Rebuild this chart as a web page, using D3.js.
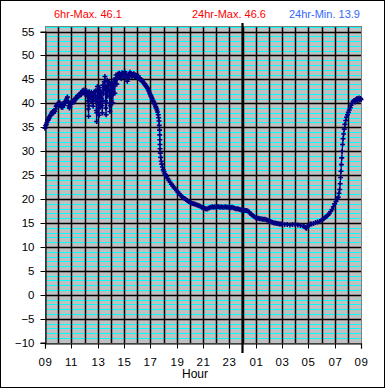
<!DOCTYPE html>
<html><head><meta charset="utf-8">
<script src="https://cdn.jsdelivr.net/npm/d3@7"></script>
<style>
html,body{margin:0;padding:0;background:#fff;}
svg{display:block;}
text{font-family:"Liberation Sans",Arial,sans-serif;}
</style></head>
<body>
<script>
// ---- data ----
const yTicks = [-10,-5,0,5,10,15,20,25,30,35,40,45,50,55];
const xTickHours = [0,2,4,6,8,10,12,14,16,18,20,22,24];
const xTickLabels = ["09","11","13","15","17","19","21","23","01","03","05","07","09"];
const titleTexts = ["6hr-Max. 46.1","24hr-Max. 46.6","24hr-Min. 13.9"];
const titleColors = ["#ff0000","#ff0000","#3366ff"];
const midnightHour = 15;
// hours since 09:00
const hours = [
 0.0,0.05,0.1,0.15,0.2,0.25,0.3,0.35,0.4,0.45,0.5,0.55,0.6,0.65,0.7,0.75,0.8,0.85,0.9,0.95,
 1.0,1.05,1.1,1.15,1.2,1.25,1.3,1.35,1.4,1.45,1.5,1.55,1.6,1.65,1.7,1.75,1.8,1.85,1.9,1.95,
 2.0,2.05,2.1,2.15,2.2,2.25,2.3,2.35,2.4,2.45,2.5,2.55,2.6,2.65,2.7,2.75,2.8,2.85,2.9,2.95,3.0,3.05,3.1,
 3.15,3.2,3.25,3.27,3.29,3.31,3.33,3.36,3.38,3.42,3.47,3.52,3.57,3.62,3.66,3.7,3.75,3.8,3.85,3.88,3.9,3.92,3.94,3.96,3.98,
 4.0,4.02,4.05,4.08,4.1,4.12,4.15,4.2,4.25,4.3,4.33,4.35,4.38,4.4,4.45,4.5,4.53,4.55,4.58,4.6,4.62,4.64,4.66,4.68,4.72,4.77,4.82,4.87,4.89,4.91,4.93,4.95,4.97,
 5.0,5.05,5.1,5.13,5.15,5.18,5.2,5.25,5.3,5.35,5.4,5.45,5.5,
 5.55,5.6,5.65,5.7,5.75,5.8,5.85,5.9,5.95,6.0,6.05,6.1,6.15,6.2,6.25,6.3,6.35,6.4,6.45,6.5,6.55,6.6,6.65,6.7,6.75,6.8,6.85,6.9,6.95,7.0,7.05,7.1,7.15,7.2,7.25,7.3,
 7.35,7.4,7.45,7.5,7.55,7.6,7.65,7.7,7.75,7.8,7.85,7.9,7.95,8.0,8.05,8.1,8.15,8.2,8.25,8.3,8.35,8.4,8.45,8.5,8.55,8.6,8.63,8.66,8.68,8.70,8.71,8.72,8.73,8.74,8.76,8.79,8.83,8.87,8.92,8.98,
 9.04,9.1,9.17,9.24,9.32,9.4,9.5,9.6,9.7,9.8,9.9,10.0,10.1,10.2,10.3,10.4,10.5,10.6,10.7,10.8,10.9,11.0,11.1,11.2,11.3,11.4,11.5,11.6,11.7,11.8,11.9,
 12.0,12.1,12.2,12.3,12.4,12.5,12.6,12.7,12.8,12.9,13.0,13.1,13.2,13.3,13.4,13.5,13.6,13.7,13.8,13.9,14.0,14.1,14.2,14.3,14.4,14.5,14.6,14.7,14.8,14.9,
 15.0,15.1,15.2,15.3,15.4,15.5,15.6,15.7,15.8,15.9,16.0,16.1,16.2,16.3,16.4,16.5,16.6,16.7,16.8,16.9,17.0,17.1,17.2,17.3,17.4,17.5,17.6,17.7,17.8,17.9,
 18.0,18.2,18.4,18.6,18.8,19.0,19.2,19.4,19.6,19.7,19.8,19.87,19.95,20.05,20.15,20.25,20.4,20.55,20.7,20.85,
 21.0,21.1,21.2,21.3,21.4,21.5,21.6,21.7,21.8,21.9,22.0,22.1,22.2,22.27,22.33,22.38,22.42,22.45,22.48,22.51,22.54,22.57,22.6,22.64,22.68,22.73,22.78,22.84,22.9,22.97,
 23.04,23.11,23.18,23.25,23.32,23.4,23.48,23.55,23.62,23.7,23.77,23.84,23.9,23.96,24.0
];
const temps = [
 34.8,35.3,35.6,36.0,36.4,36.6,36.9,37.2,37.4,37.6,37.9,38.1,38.3,38.0,38.5,38.3,38.8,39.4,39.6,39.8,
 40.0,39.5,40.2,39.8,39.5,39.2,39.4,39.2,39.6,40.0,40.3,40.1,40.6,40.9,41.3,40.4,39.5,39.0,39.3,39.8,
 40.1,40.4,40.2,40.6,40.3,40.7,40.9,41.2,41.0,41.4,41.6,41.5,41.9,41.7,42.1,41.8,42.3,42.6,42.2,42.8,42.4,41.9,42.0,
 42.6,41.5,42.3,40.5,38.8,37.3,39.5,42.4,40.8,41.9,41.2,42.3,40.3,42.0,39.4,41.5,42.4,41.0,42.6,40.5,38.5,36.2,38.0,40.5,43.5,
 41.5,40.0,42.8,39.0,37.5,40.5,43.3,39.2,42.5,41.0,39.5,38.0,40.5,43.8,42.0,44.5,43.0,45.6,43.5,40.5,39.0,37.6,40.0,43.0,44.8,41.5,43.8,44.5,42.5,40.0,38.3,39.5,41.5,
 43.9,42.0,44.2,42.0,40.1,42.0,43.5,45.0,42.1,44.8,45.9,44.0,45.7,
 46.1,45.4,46.3,45.8,46.0,45.2,46.4,45.9,46.2,45.6,46.6,45.8,46.1,45.5,44.6,45.2,46.0,45.7,46.5,45.9,46.2,45.6,46.0,45.8,46.2,45.6,45.9,45.5,45.8,45.6,45.4,45.7,45.3,45.1,44.9,45.0,
 44.8,44.6,44.4,44.3,44.1,43.9,43.7,43.5,43.3,43.1,42.8,42.5,42.1,41.8,41.5,41.2,40.9,40.6,40.3,40.0,39.7,39.3,39.0,38.6,38.2,37.6,37.0,36.3,35.4,34.4,33.4,32.4,31.4,30.5,29.6,28.7,27.9,27.3,26.7,26.1,
 25.7,25.3,25.0,24.7,24.3,23.9,23.5,23.1,22.8,22.4,22.1,21.8,21.4,21.1,20.8,20.5,20.3,20.1,19.9,19.7,19.5,19.4,19.2,19.1,19.0,18.9,18.8,18.7,18.6,18.5,18.3,
 18.2,18.1,18.0,17.9,18.1,18.2,18.3,18.4,18.3,18.4,18.3,18.4,18.4,18.3,18.4,18.3,18.3,18.4,18.3,18.3,18.3,18.2,18.3,18.2,18.1,18.0,18.0,17.9,17.8,17.7,
 17.7,17.7,17.6,17.6,17.5,17.3,17.0,16.7,16.5,16.3,16.1,16.0,16.0,15.9,15.9,15.8,15.8,15.8,15.7,15.6,15.4,15.3,15.2,15.1,15.0,15.0,14.9,14.9,14.8,14.8,
 14.8,14.7,14.7,14.6,14.7,14.7,14.6,14.5,14.4,14.2,14.0,13.9,14.3,14.6,14.8,14.8,14.9,15.1,15.2,15.3,
 15.6,15.8,16.0,16.2,16.4,16.7,17.0,17.4,17.8,18.4,19.0,19.5,20.0,20.4,21.2,22.0,23.2,24.5,25.8,27.2,28.6,30.0,31.4,32.6,33.6,34.6,35.6,36.4,37.1,37.6,
 38.1,38.6,39.1,39.6,40.0,40.4,40.6,40.3,40.8,41.0,40.6,41.1,40.7,41.0,40.8
];

// ---- drawing ----
const W = 385, H = 388;
const svg = d3.select("body").append("svg").attr("width", W).attr("height", H);
svg.append("rect").attr("x",0.5).attr("y",0.5).attr("width",W-1).attr("height",H-1)
  .attr("fill","#fff").attr("stroke","#000");

const x = d3.scaleLinear().domain([0,24]).range([45,361]);
const y = d3.scaleLinear().domain([-10,55]).range([342.7,31.5]);
const yTop = 56.15;
const px = v => Math.round(x(v)) + 0.5;
const py = v => Math.round(y(v)) + 0.5;

const g = svg.append("g");
g.append("rect").attr("x",px(0)).attr("y",py(yTop)).attr("width",px(24)-px(0)).attr("height",py(-10)-py(yTop))
  .attr("fill","#c0c0c0");
const minor = d3.range(-9,57).filter(v => v % 5 !== 0);
g.selectAll(".minor").data(minor).join("line")
  .attr("x1",px(0)).attr("x2",px(24)).attr("y1",d=>py(d)).attr("y2",d=>py(d))
  .attr("stroke","#00ffff").attr("stroke-width",1).attr("shape-rendering","crispEdges");
g.selectAll(".majh").data(yTicks.filter(v=>v>-10)).join("line")
  .attr("x1",px(0)).attr("x2",px(24)).attr("y1",d=>py(d)).attr("y2",d=>py(d))
  .attr("stroke","#000").attr("stroke-width",1.5);
g.selectAll(".majv").data(d3.range(1,24)).join("line")
  .attr("x1",d=>px(d)).attr("x2",d=>px(d)).attr("y1",py(yTop)).attr("y2",py(-10))
  .attr("stroke","#000").attr("stroke-width",1.5);
g.append("rect").attr("x",px(0)).attr("y",py(yTop)).attr("width",px(24)-px(0)).attr("height",py(-10)-py(yTop))
  .attr("fill","none").attr("stroke","#808080").attr("stroke-width",1);

const yAxis = d3.axisLeft(y).tickValues(yTicks).tickSize(5).tickPadding(6).tickFormat(d3.format("d"));
const ya = svg.append("g").attr("transform",`translate(${px(0)},0)`).call(yAxis);
const xAxis = d3.axisBottom(x).tickValues(xTickHours).tickSize(5).tickPadding(9).tickFormat((d,i)=>xTickLabels[i]);
const xa = svg.append("g").attr("transform",`translate(0,${py(-10)})`).call(xAxis);
[ya,xa].forEach(a=>{
  a.select(".domain").attr("stroke","#000").attr("stroke-width",1.2);
  a.selectAll(".tick line").attr("stroke","#000");
  a.selectAll(".tick text").attr("fill","#000").style("font-family","'Liberation Sans',Arial,sans-serif").style("font-size","11.5px");
});
ya.selectAll(".tick").attr("transform", d=>`translate(0,${py(d)})`);
xa.selectAll(".tick").attr("transform", d=>`translate(${px(d)},0)`);
xa.selectAll(".tick text").style("letter-spacing","0.6px");

svg.append("line").attr("x1",x(midnightHour)).attr("x2",x(midnightHour)).attr("y1",23).attr("y2",353)
  .attr("stroke","#000").attr("stroke-width",2.2);

const pts = hours.map((h,i)=>[h,temps[i]]);
svg.append("path").datum(pts)
  .attr("d", d3.line().x(d=>x(d[0])).y(d=>y(d[1])))
  .attr("fill","none").attr("stroke","#000080").attr("stroke-width",1.2);
svg.selectAll(".pt").data(pts).join("path")
  .attr("transform",d=>`translate(${x(d[0])},${y(d[1])})`)
  .attr("d","M-2.5,0H2.5M0,-2.5V2.5")
  .attr("stroke","#000080").attr("stroke-width",1.6).attr("fill","none");

const titleX = [54, 192, 289];
svg.selectAll(".ttl").data(titleTexts).join("text")
  .attr("x",(d,i)=>titleX[i]).attr("y",18.3)
  .attr("fill",(d,i)=>titleColors[i]).style("font-size","11px").text(d=>d);

svg.append("text").attr("x",195).attr("y",378).attr("text-anchor","middle")
  .style("font-size","12px").attr("fill","#000").text("Hour");
</script>
</body></html>
